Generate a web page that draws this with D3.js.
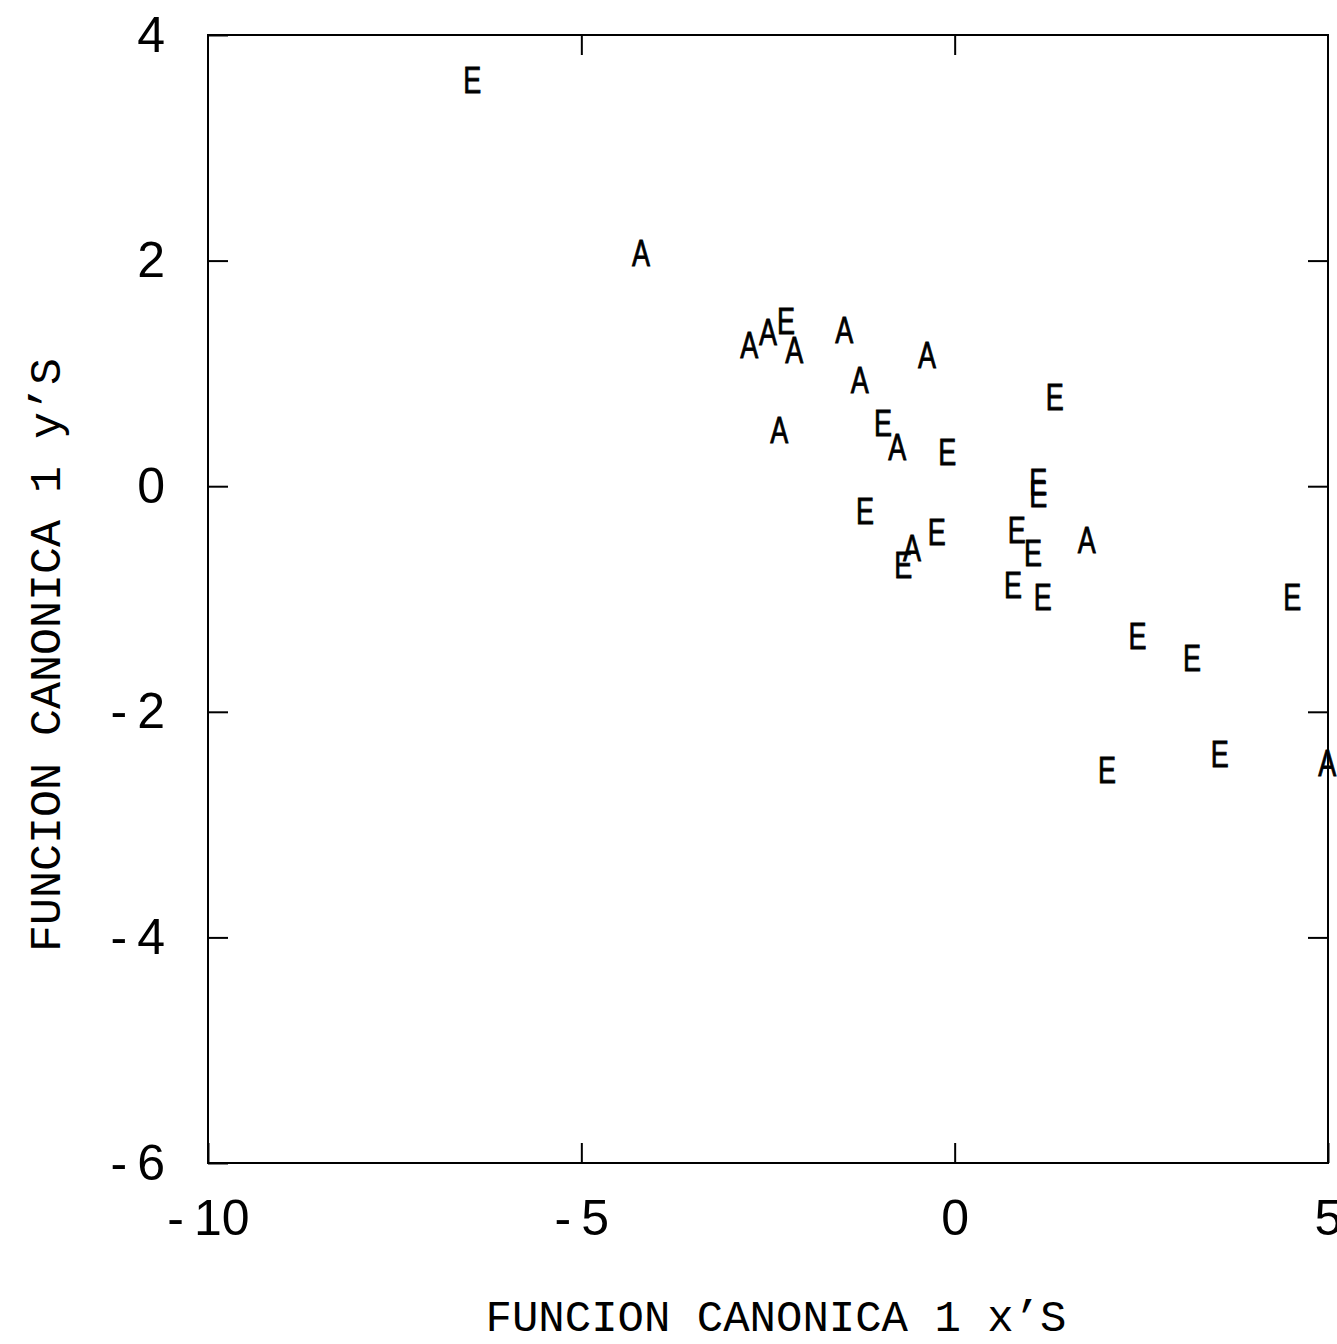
<!DOCTYPE html>
<html>
<head>
<meta charset="utf-8">
<script src="https://cdn.jsdelivr.net/npm/d3@7"></script>
<style>
  body { margin: 0; background: #fff; }
  .tick text { font-family: "Liberation Sans", Arial, sans-serif; font-weight: 300; }
</style>
</head>
<body>
<div id="chart"></div>
<script>
// canonical scores
const xVals = [-6.46, -4.20, -2.75, -2.50, -2.26, -2.15, -1.48, -0.37, -1.27, -2.35,
               -0.96, -0.77, -0.10, 1.34, -1.20, -0.24, -0.57, -0.69, 1.12, 1.12,
               0.83, 1.05, 1.77, 0.78, 1.18, 4.52, 2.45, 3.18, 3.55, 2.04, 4.99];
const yVals = [3.60, 2.07, 1.25, 1.37, 1.46, 1.21, 1.385, 1.16, 0.94, 0.50,
               0.56, 0.35, 0.30, 0.79, -0.22, -0.41, -0.55, -0.70, 0.04, -0.07,
               -0.39, -0.59, -0.48, -0.88, -0.98, -0.98, -1.33, -1.52, -2.37, -2.52, -2.45];
const groups = ["E", "A", "A", "A", "E", "A", "A", "A", "A", "A",
                "E", "A", "E", "E", "E", "E", "A", "E", "E", "E",
                "E", "E", "A", "E", "E", "E", "E", "E", "E", "E", "A"];

const xTicks = [-10, -5, 0, 5];
const yTicks = [-6, -4, -2, 0, 2, 4];
const xTitle = "FUNCION CANONICA 1 x\u2019S";
const yTitle = "FUNCION CANONICA 1 y\u2019S";

const data = xVals.map((x, i) => ({ x: x, y: yVals[i], g: groups[i] }));

const W = 1337, H = 1344;
const margin = { top: 35, right: 9, bottom: 181, left: 208 };
const width = W - margin.left - margin.right,
      height = H - margin.top - margin.bottom;

const svg = d3.select("#chart").append("svg")
    .attr("width", W)
    .attr("height", H);

const g = svg.append("g")
    .attr("transform", `translate(${margin.left},${margin.top})`);

const x = d3.scaleLinear().domain([-10, 5]).range([0, width]);
const y = d3.scaleLinear().domain([-6, 4]).range([height, 0]);

// frame
g.append("rect")
    .attr("width", width).attr("height", height)
    .attr("fill", "none").attr("stroke", "#000").attr("stroke-width", 2);

const fmt = d => d < 0 ? "-\u2009" + Math.abs(d) : d;

function styleAxis(sel, size) {
    sel.select(".domain").remove();
    sel.selectAll(".tick line").attr("stroke", "#000").attr("stroke-width", 2);
    sel.selectAll(".tick text").attr("fill", "#000").style("font-size", size + "px");
}

g.append("g")
    .call(d3.axisLeft(y).tickValues(yTicks).tickSizeInner(-20).tickSizeOuter(0).tickPadding(43)
        .tickFormat(fmt))
    .call(sel => styleAxis(sel, 50));

g.append("g")
    .attr("transform", `translate(0,${height})`)
    .call(d3.axisBottom(x).tickValues(xTicks).tickSizeInner(-20).tickSizeOuter(0).tickPadding(36)
        .tickFormat(fmt))
    .call(sel => styleAxis(sel, 50));

g.append("g")
    .call(d3.axisTop(x).tickValues([-5, 0]).tickSizeInner(-20).tickSizeOuter(0).tickFormat(""))
    .call(sel => styleAxis(sel, 0));

g.append("g")
    .attr("transform", `translate(${width},0)`)
    .call(d3.axisRight(y).tickValues([-4, -2, 0, 2]).tickSizeInner(-20).tickSizeOuter(0).tickFormat(""))
    .call(sel => styleAxis(sel, 0));

// points drawn as group letters
g.selectAll("text.pt")
    .data(data)
    .enter().append("text")
    .attr("class", "pt")
    .attr("transform", d => `translate(${x(d.x)},${y(d.y)}) scale(0.75,1)`)
    .attr("text-anchor", "middle")
    .attr("dy", "0.36em")
    .style("font-family", "'Liberation Sans', Arial, sans-serif")
    .style("font-size", "36px")
    .attr("stroke", "#000")
    .attr("stroke-width", 0.8)
    .text(d => d.g);

// axis titles
svg.append("text")
    .attr("x", 776)
    .attr("y", 1331)
    .attr("text-anchor", "middle")
    .style("font-family", "'Liberation Mono', 'DejaVu Sans Mono', monospace")
    .style("font-size", "44px")
    .text(xTitle);

svg.append("text")
    .attr("transform", "translate(60,655) rotate(-90)")
    .attr("text-anchor", "middle")
    .style("font-family", "'Liberation Mono', 'DejaVu Sans Mono', monospace")
    .style("font-size", "45px")
    .text(yTitle);
</script>
</body>
</html>
